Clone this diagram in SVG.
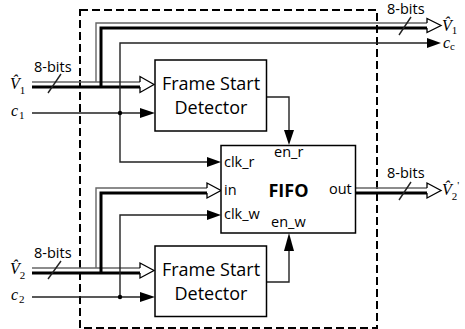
<svg xmlns="http://www.w3.org/2000/svg" width="465" height="329" viewBox="0 0 465 329">
<style>
.box{fill:#fff;stroke:#000;stroke-width:1.5}
.sig{fill:none;stroke:#222;stroke-width:1.4}
.bt{fill:none;stroke:#666;stroke-width:1.4}
.bk{fill:none;stroke:#000;stroke-width:3}
.ha{fill:#fff;stroke:#000;stroke-width:1.3;stroke-linejoin:miter}
.fa{fill:#000;stroke:none}
.lbl{font-family:"Open Sans","Liberation Sans",sans-serif;font-size:14.5px;fill:#000}
.big{font-family:"Open Sans","Liberation Sans",sans-serif;font-size:18px;fill:#000;text-anchor:middle}
.math{font-family:"Liberation Serif","DejaVu Serif",serif;font-style:italic;font-size:16px;fill:#000}
.sub{font-size:11px;font-style:normal}
</style>
<rect x="0" y="0" width="465" height="329" fill="#fff"/>
<rect x="80" y="10" width="297" height="318" fill="none" stroke="#000" stroke-width="2" stroke-dasharray="8,4"/>

<g id="connectors">
  <!-- V1 bus -->
  <polyline class="bt" points="32,82 140,82"/>
  <polyline class="bk" points="32,87 140,87"/>
  <polyline class="bt" points="96,82 96,23 427,23"/>
  <polyline class="bk" points="101,87 101,28 427,28"/>
  <path class="ha" d="M140,82 L140,76.5 L154,84.5 L140,92.5 L140,87"/>
  <path class="ha" d="M427,23 L427,18.5 L441,25.5 L427,32.5 L427,28"/>
  <line class="sig" x1="48" y1="93" x2="61" y2="74"/>
  <line class="sig" x1="399" y1="35" x2="411" y2="17"/>
  <!-- c1 -->
  <polyline class="sig" points="32,113 141,113"/>
  <polygon class="fa" points="140,108 155,113 140,118"/>
  <polyline class="sig" points="427,43 120,43 120,162 208,162"/>
  <polygon class="fa" points="427,38 441,43 427,48"/>
  <polygon class="fa" points="207,157 221,162 207,167"/>
  <circle cx="120" cy="113" r="2.2" fill="#000"/>
  <!-- en_r -->
  <polyline class="sig" points="266,97 289,97 289,131"/>
  <polygon class="fa" points="284,130 289,145 294,130"/>
  <!-- V2 bus -->
  <polyline class="bt" points="32,268 140,268"/>
  <polyline class="bk" points="32,273 140,273"/>
  <polyline class="bt" points="96,268 96,188 207,188"/>
  <polyline class="bk" points="101,273 101,193 207,193"/>
  <path class="ha" d="M140,268 L140,263 L154,270.5 L140,278 L140,273"/>
  <path class="ha" d="M207,188 L207,183 L221,190.5 L207,198 L207,193"/>
  <line class="sig" x1="48" y1="279" x2="61" y2="261"/>
  <!-- c2 -->
  <polyline class="sig" points="32,297 141,297"/>
  <polygon class="fa" points="140,292 155,297 140,302"/>
  <polyline class="sig" points="120,297 120,215 208,215"/>
  <polygon class="fa" points="207,210 221,215 207,220"/>
  <circle cx="120" cy="297" r="2.2" fill="#000"/>
  <!-- en_w -->
  <polyline class="sig" points="266,282 289,282 289,250"/>
  <polygon class="fa" points="284,251 289,233 294,251"/>
  <!-- out bus -->
  <polyline class="bt" points="355,188 427,188"/>
  <polyline class="bk" points="355,193 427,193"/>
  <path class="ha" d="M427,188 L427,183 L441,190.5 L427,198 L427,193"/>
  <line class="sig" x1="399" y1="200" x2="411" y2="182"/>
</g>

<g id="fsd1">
  <rect class="box" x="155" y="60" width="111.5" height="71"/>
  <text class="big" x="211" y="90">Frame Start</text>
  <text class="big" x="211" y="114">Detector</text>
</g>
<g id="fsd2">
  <rect class="box" x="155" y="246" width="111.5" height="70.5"/>
  <text class="big" x="211" y="276">Frame Start</text>
  <text class="big" x="211" y="300">Detector</text>
</g>
<g id="fifo">
  <rect class="box" x="221" y="145.5" width="134.5" height="87.5"/>
  <text class="lbl" x="224" y="167">clk_r</text>
  <text class="lbl" x="224" y="195">in</text>
  <text class="lbl" x="224" y="219">clk_w</text>
  <text class="lbl" x="274" y="157">en_r</text>
  <text class="lbl" x="271" y="227">en_w</text>
  <text class="lbl" x="329" y="194">out</text>
  <text class="big" x="288.5" y="197" font-weight="bold">FIFO</text>
</g>

<g id="labels">
  <text class="lbl" x="34" y="72">8-bits</text>
  <text class="lbl" x="34" y="258">8-bits</text>
  <text class="lbl" x="387" y="14">8-bits</text>
  <text class="lbl" x="387" y="178">8-bits</text>
  <text class="math" x="10" y="89">V&#x302;<tspan class="sub" dy="5">1</tspan></text>
  <text class="math" x="11" y="116">c<tspan class="sub" dy="3" dx="1">1</tspan></text>
  <text class="math" x="10" y="274">V&#x302;<tspan class="sub" dy="5">2</tspan></text>
  <text class="math" x="11" y="300">c<tspan class="sub" dy="3" dx="1">2</tspan></text>
  <text class="math" x="442" y="31">V&#x302;<tspan class="sub" dy="3">1</tspan></text>
  <text class="math" x="443" y="48">c<tspan class="sub" dy="2">c</tspan></text>
  <text class="math" x="442" y="195">V&#x302;<tspan class="sub" dy="5">2</tspan><tspan class="sub" dy="-11">'</tspan></text>
</g>
</svg>
